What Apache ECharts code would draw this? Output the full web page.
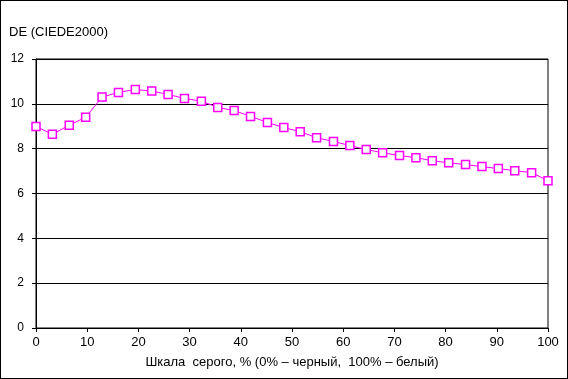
<!DOCTYPE html>
<html>
<head>
<meta charset="utf-8">
<script src="https://cdn.jsdelivr.net/npm/echarts@6/dist/echarts.min.js"></script>
<style>
html,body{margin:0;padding:0;background:#fff;}
#c{width:568px;height:379px;box-sizing:border-box;border:1px solid #000;}
</style>
</head>
<body>
<div id="c"></div>
<script>
var xValues = [0, 3.2, 6.5, 9.7, 12.9, 16.1, 19.4, 22.6, 25.8, 29.0, 32.3, 35.5, 38.7, 41.9, 45.2, 48.4, 51.6, 54.8, 58.1, 61.3, 64.5, 67.7, 71.0, 74.2, 77.4, 80.6, 83.9, 87.1, 90.3, 93.5, 96.8, 100];
var deValues = [8.99, 8.64, 9.05, 9.40, 10.30, 10.51, 10.64, 10.57, 10.42, 10.24, 10.12, 9.84, 9.70, 9.44, 9.17, 8.94, 8.76, 8.49, 8.32, 8.14, 7.96, 7.82, 7.69, 7.60, 7.46, 7.37, 7.29, 7.20, 7.11, 7.02, 6.93, 6.57];
var yTitle = 'DE (CIEDE2000)';
var xTitle = 'Шкала  серого, % (0% – черный,  100% – белый)';

var pts = xValues.map(function(x, i){ return [x, deValues[i]]; });
var font = 'Liberation Sans, Arial, sans-serif';
var chart = echarts.init(document.getElementById('c'), null, {renderer:'canvas'});
chart.setOption({
  animation: false,
  backgroundColor: '#fff',
  title: {
    text: yTitle, left: 8, top: 25, padding: 0,
    textStyle: {fontFamily: font, fontSize: 13, fontWeight: 'normal', color: '#000'}
  },
  grid: {left: 35, right: 19, top: 58, bottom: 50, show: true, borderColor: '#000', borderWidth: 1, backgroundColor: 'transparent'},
  xAxis: {
    type: 'value', min: 0, max: 100, interval: 10,
    name: xTitle, nameLocation: 'middle', nameGap: 28,
    nameTextStyle: {fontFamily: font, fontSize: 13, color: '#000'},
    axisLine: {lineStyle: {color: '#000', width: 1}},
    axisTick: {show: true, length: 4, lineStyle: {color: '#000'}},
    axisLabel: {fontFamily: font, fontSize: 13, color: '#000', margin: 8},
    splitLine: {show: false}
  },
  yAxis: {
    type: 'value', min: 0, max: 12, interval: 2,
    axisLine: {show: true, lineStyle: {color: '#000', width: 1}},
    axisTick: {show: true, length: 4, lineStyle: {color: '#000'}},
    axisLabel: {fontFamily: font, fontSize: 12, color: '#000', margin: 12},
    splitLine: {show: true, lineStyle: {color: '#000', width: 1}}
  },
  series: [{
    type: 'line',
    data: pts,
    symbol: 'rect',
    symbolSize: 8,
    showAllSymbol: true,
    lineStyle: {color: '#ff00ff', width: 1},
    itemStyle: {color: '#fff', borderColor: '#ff00ff', borderWidth: 1.5}
  }]
});
</script>
</body>
</html>
